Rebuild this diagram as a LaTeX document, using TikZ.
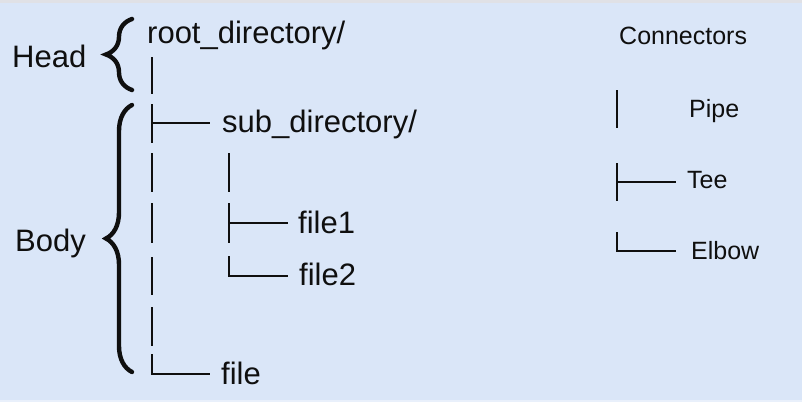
\documentclass[tikz,border=0pt]{standalone}
\usepackage{fontspec}
\setmainfont{Liberation Sans}
\usetikzlibrary{decorations.pathreplacing}
\definecolor{bgblue}{RGB}{218,230,248}
\definecolor{topgray}{RGB}{224,225,230}
\definecolor{ink}{RGB}{15,15,15}
\tikzset{
  lbl/.style={anchor=base west, inner sep=0pt, text=ink, font=\fontsize{31}{36}\selectfont},
  small/.style={anchor=base west, inner sep=0pt, text=ink, font=\fontsize{25}{30}\selectfont},
  conn/.style={draw=ink, line width=2.8pt, line cap=butt},
  bracestyle/.style={draw=ink, line width=4.4pt, line cap=round, decorate, decoration={brace, amplitude=26pt}},
}
\begin{document}
\begin{tikzpicture}[x=1pt,y=-1pt]
\useasboundingbox (0,0) rectangle (802,402);
\fill[bgblue] (0,0) rectangle (802,402);
\fill[topgray] (0,0) rectangle (802,3);
\fill[bgblue!60!white] (0,400) rectangle (802,402);

% left labels and braces
\node[lbl] (head) at (12,67) {Head};
\node[lbl] (body) at (15,251) {Body};
\draw[bracestyle] (132,90) -- (132,19);
\draw[bracestyle] (132,372) -- (132,105);

% tree texts
\node[lbl] (root) at (147,43) {root\_directory/};
\node[lbl] (sub) at (222,132) {sub\_directory/};
\node[lbl] (f1) at (298,233) {file1};
\node[lbl] (f2) at (299,285) {file2};
\node[lbl] (f) at (221,384) {file};

% main column
\draw[conn] (152,57) -- (152,94);
\draw[conn] (152,104) -- (152,143);
\draw[conn] (152,123) -- (210,123);
\draw[conn] (152,153) -- (152,192);
\draw[conn] (152,203) -- (152,243);
\draw[conn] (152,257) -- (152,295);
\draw[conn] (152,307) -- (152,346);
\draw[conn] (152,354) -- (152,374) -- (210,374);

% sub column
\draw[conn] (229,153) -- (229,192);
\draw[conn] (229,203) -- (229,243);
\draw[conn] (229,223) -- (288,223);
\draw[conn] (229,256) -- (229,276) -- (288,276);

% legend
\node[small] (cn) at (619,44) {Connectors};
\draw[conn] (617,90) -- (617,128);
\node[small] (pipe) at (689,117) {Pipe};
\draw[conn] (617,163) -- (617,201);
\draw[conn] (617,182) -- (676,182);
\node[small] (tee) at (687,188) {Tee};
\draw[conn] (617,232) -- (617,251) -- (676,251);
\node[small] (elbow) at (691,259) {Elbow};
\end{tikzpicture}
\end{document}
